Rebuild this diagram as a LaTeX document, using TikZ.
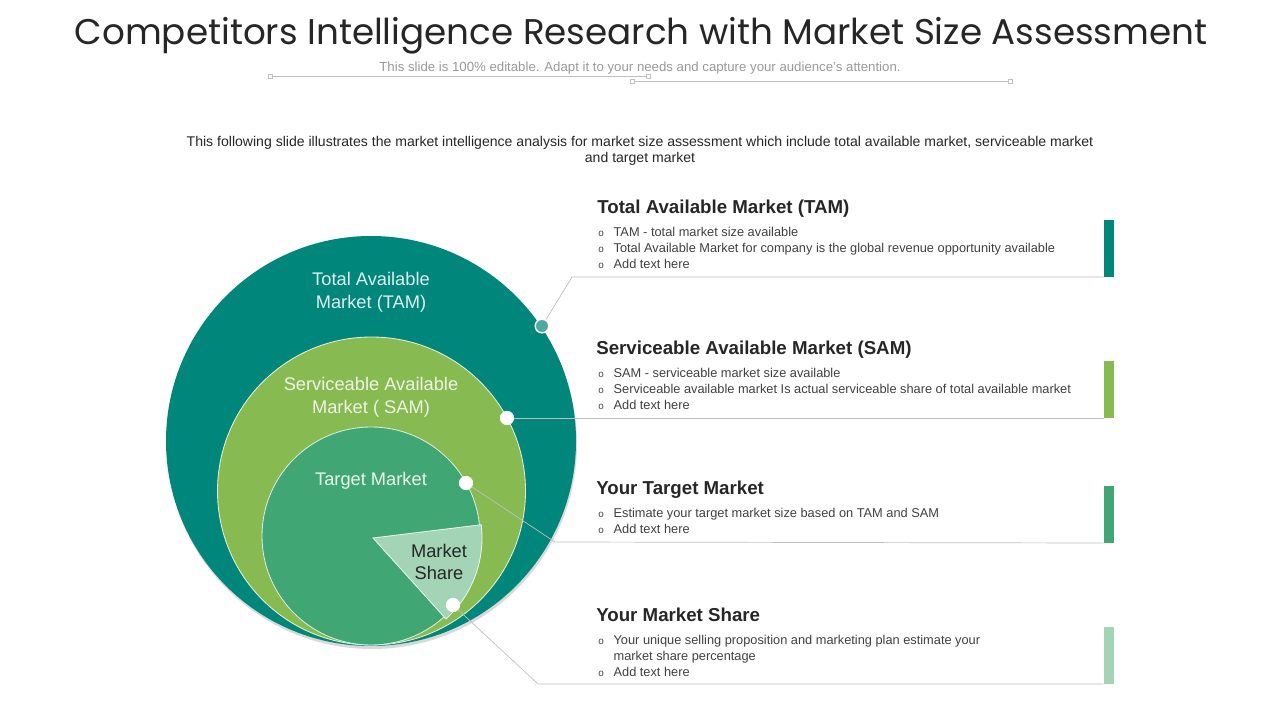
\documentclass[tikz,border=0pt]{standalone}
\usepackage{fontspec}
\setmainfont{Liberation Sans}
\newfontfamily\titlefont{Poppins}
\definecolor{tamcol}{HTML}{00867A}
\definecolor{samcol}{HTML}{88BA52}
\definecolor{tgtcol}{HTML}{40A673}
\definecolor{sharecol}{HTML}{A2D4B5}
\definecolor{leadcol}{HTML}{BFBFBF}
\tikzset{
  leader/.style={draw=leadcol, line width=0.5pt},
  dot/.style={circle, fill=white, draw=white, inner sep=0pt, minimum size=0.34cm},
  bar/.style={rectangle, inner sep=0pt, minimum width=0.25cm, minimum height=1.43cm, anchor=south},
  heading/.style={anchor=base west, inner sep=0pt, text=black!85, font=\bfseries\fontsize{13.3}{15}\selectfont},
  bullets/.style={anchor=north west, inner sep=0pt, text=black!75, font=\fontsize{9.1}{11.4}\selectfont},
  ringlabel/.style={align=center, font=\fontsize{13}{16.3}\selectfont},
  handle/.style={draw=leadcol, fill=white, line width=0.4pt, minimum size=3pt, inner sep=0pt}
}
\newcommand{\blist}[1]{\begin{tabular}{@{}l@{\hspace{7pt}}l@{}}#1\end{tabular}}
\newcommand{\bo}{\raisebox{0.2pt}{\fontsize{7}{8}\selectfont o}}
\begin{document}
\begin{tikzpicture}[x=0.025cm, y=-0.025cm]
\useasboundingbox (0,0) rectangle (1280,720);
% title and notes
\node[font=\titlefont\fontsize{25.4}{30}\selectfont, text=black!85] (title) at (641,36) {Competitors Intelligence Research with Market Size Assessment};
\node[font=\fontsize{9.4}{11}\selectfont, text=black!40] (subtitle) at (640,68) {This slide is 100\% editable. Adapt it to your needs and capture your audience's attention.};
\draw[leader] (270,76) -- (648,76);
\draw[leader] (632,81) -- (1010,81);
\foreach \hx/\hy in {270/76, 648/76, 632/81, 1010/81}
  \node[handle] at (\hx,\hy) {};
\node[align=center, font=\fontsize{10}{11.4}\selectfont, text=black!85] (intro) at (640,151) {This following slide illustrates the market intelligence analysis for market size assessment which include total available market, serviceable market\\and target market};
% nested circles
\fill[black!15] (372,444) circle[radius=205];
\fill[tamcol] (371,441) circle[radius=205];
\filldraw[fill=samcol, draw=white!80!samcol, line width=0.6pt] (371.5,491) circle[radius=154];
\filldraw[fill=tgtcol, draw=white!80!tgtcol, line width=0.6pt] (371,536) circle[radius=109];
\filldraw[fill=sharecol, draw=white!80!sharecol, line width=0.6pt] (373,538) -- ++(-7:109) arc[start angle=-7, end angle=48, radius=109] -- cycle;
\node[ringlabel, text=white!88!tamcol] (tamlabel) at (371,292) {Total Available\\Market (TAM)};
\node[ringlabel, text=white!85!samcol] (samlabel) at (371,397) {Serviceable Available\\Market ( SAM)};
\node[ringlabel, text=white!90!tgtcol] (tgtlabel) at (371,481) {Target Market};
\node[ringlabel, text=black!85] (sharelabel) at (439,562) {Market\\Share};
% dots on the rings
\node[dot, fill=white!30!tamcol, line width=1pt] (tamdot) at (542,326) {};
\node[dot] (samdot) at (507,418) {};
\node[dot] (tgtdot) at (466,483) {};
\node[dot] (sharedot) at (453,605) {};
% bars on the right
\node[bar, fill=tamcol] (tambar) at (1109,277) {};
\node[bar, fill=samcol] (sambar) at (1109,418) {};
\node[bar, fill=tgtcol] (tgtbar) at (1109,543) {};
\node[bar, fill=sharecol] (sharebar) at (1109,684) {};
% connectors
\coordinate (tamknee) at (572,277);
\coordinate (tgtknee) at (555,542);
\coordinate (shareknee) at (538,684);
\draw[leader] (tamdot) -- (tamknee) -- (tambar.south west);
\draw[leader] (samdot) -- (sambar.south west);
\draw[leader] (tgtdot) -- (tgtknee) -- (tgtbar.south west);
\draw[leader] (sharedot) -- (shareknee) -- (sharebar.south west);
% text blocks
\node[heading] (tamhead) at (597,214) {Total Available Market (TAM)};
\node[bullets] (tamtext) at (598,225) {\blist{\bo & TAM - total market size available\\
  \bo & Total Available  Market for company is the global revenue  opportunity  available\\
  \bo & Add text here}};
\node[heading] (samhead) at (596,355) {Serviceable Available Market (SAM)};
\node[bullets] (samtext) at (598,366) {\blist{\bo & SAM - serviceable  market  size available\\
  \bo & Serviceable  available  market Is actual serviceable  share of total available  market\\
  \bo & Add text here}};
\node[heading] (tgthead) at (596,494) {Your Target Market};
\node[bullets] (tgttext) at (598,506) {\blist{\bo & Estimate your target market  size based on TAM and SAM\\
  \bo & Add text here}};
\node[heading] (sharehead) at (596,621) {Your Market Share};
\node[bullets] (sharetext) at (598,633) {\blist{\bo & Your unique selling proposition and marketing plan estimate your\\
  & market share percentage\\
  \bo & Add text here}};
\end{tikzpicture}
\end{document}
